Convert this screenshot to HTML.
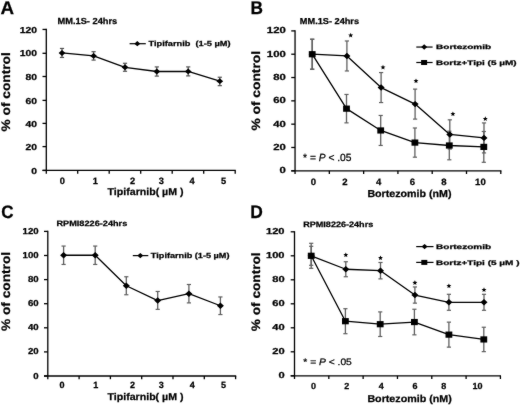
<!DOCTYPE html>
<html><head><meta charset="utf-8"><style>
html,body{margin:0;padding:0;background:#fff;overflow:hidden;}
svg{display:block;font-family:"Liberation Sans", sans-serif;}
text{stroke:#000;stroke-width:0.25px;text-rendering:geometricPrecision;}
</style></head><body>
<svg width="520" height="405" viewBox="0 0 520 405">
<defs><filter id="soft" filterUnits="userSpaceOnUse" x="0" y="0" width="520" height="405" color-interpolation-filters="sRGB"><feConvolveMatrix order="3" kernelMatrix="1 2 1 2 40 2 1 2 1" divisor="52" edgeMode="duplicate"/></filter></defs>
<g filter="url(#soft)">
<rect width="520" height="405" fill="#fff"/>
<line x1="46.30" y1="28.85" x2="46.30" y2="173.65" stroke="#000" stroke-width="1.3"/>
<line x1="42.50" y1="170.45" x2="46.30" y2="170.45" stroke="#000" stroke-width="1.3"/>
<text transform="translate(31.181,173.553) scale(1.1886,1)" font-size="8.699" font-weight="bold">0</text>
<line x1="42.50" y1="146.60" x2="46.30" y2="146.60" stroke="#000" stroke-width="1.3"/>
<text transform="translate(25.443,149.703) scale(1.1886,1)" font-size="8.699" font-weight="bold">20</text>
<line x1="42.50" y1="123.40" x2="46.30" y2="123.40" stroke="#000" stroke-width="1.3"/>
<text transform="translate(25.443,126.503) scale(1.1886,1)" font-size="8.699" font-weight="bold">40</text>
<line x1="42.50" y1="100.40" x2="46.30" y2="100.40" stroke="#000" stroke-width="1.3"/>
<text transform="translate(25.443,103.503) scale(1.1886,1)" font-size="8.699" font-weight="bold">60</text>
<line x1="42.50" y1="76.50" x2="46.30" y2="76.50" stroke="#000" stroke-width="1.3"/>
<text transform="translate(25.443,79.603) scale(1.1886,1)" font-size="8.699" font-weight="bold">80</text>
<line x1="42.50" y1="53.30" x2="46.30" y2="53.30" stroke="#000" stroke-width="1.3"/>
<text transform="translate(19.679,56.403) scale(1.1886,1)" font-size="8.699" font-weight="bold">100</text>
<line x1="42.50" y1="29.45" x2="46.30" y2="29.45" stroke="#000" stroke-width="1.3"/>
<text transform="translate(19.679,32.553) scale(1.1886,1)" font-size="8.699" font-weight="bold">120</text>
<line x1="42.50" y1="170.45" x2="235.80" y2="170.45" stroke="#000" stroke-width="1.3"/>
<line x1="77.70" y1="170.45" x2="77.70" y2="173.65" stroke="#000" stroke-width="1.3"/>
<line x1="109.20" y1="170.45" x2="109.20" y2="173.65" stroke="#000" stroke-width="1.3"/>
<line x1="140.70" y1="170.45" x2="140.70" y2="173.65" stroke="#000" stroke-width="1.3"/>
<line x1="172.20" y1="170.45" x2="172.20" y2="173.65" stroke="#000" stroke-width="1.3"/>
<line x1="203.70" y1="170.45" x2="203.70" y2="173.65" stroke="#000" stroke-width="1.3"/>
<line x1="235.20" y1="170.45" x2="235.20" y2="173.65" stroke="#000" stroke-width="1.3"/>
<text transform="translate(59.663,183.532) scale(1.0109,1)" font-size="9.167" font-weight="bold">0</text>
<text transform="translate(92.851,183.532) scale(1.0109,1)" font-size="9.167" font-weight="bold">1</text>
<text transform="translate(130.036,183.532) scale(1.0109,1)" font-size="9.167" font-weight="bold">2</text>
<text transform="translate(158.671,183.532) scale(1.0109,1)" font-size="9.167" font-weight="bold">3</text>
<text transform="translate(189.567,183.532) scale(1.0109,1)" font-size="9.167" font-weight="bold">4</text>
<text transform="translate(220.890,183.532) scale(1.0109,1)" font-size="9.167" font-weight="bold">5</text>
<line x1="62.00" y1="48.45" x2="62.00" y2="57.45" stroke="#555" stroke-width="1.3"/>
<line x1="59.90" y1="48.45" x2="64.10" y2="48.45" stroke="#555" stroke-width="1.2"/>
<line x1="59.90" y1="57.45" x2="64.10" y2="57.45" stroke="#555" stroke-width="1.2"/>
<line x1="93.60" y1="51.69" x2="93.60" y2="60.09" stroke="#555" stroke-width="1.3"/>
<line x1="91.50" y1="51.69" x2="95.70" y2="51.69" stroke="#555" stroke-width="1.2"/>
<line x1="91.50" y1="60.09" x2="95.70" y2="60.09" stroke="#555" stroke-width="1.2"/>
<line x1="125.00" y1="63.28" x2="125.00" y2="71.28" stroke="#555" stroke-width="1.3"/>
<line x1="122.90" y1="63.28" x2="127.10" y2="63.28" stroke="#555" stroke-width="1.2"/>
<line x1="122.90" y1="71.28" x2="127.10" y2="71.28" stroke="#555" stroke-width="1.2"/>
<line x1="156.80" y1="66.91" x2="156.80" y2="76.11" stroke="#555" stroke-width="1.3"/>
<line x1="154.70" y1="66.91" x2="158.90" y2="66.91" stroke="#555" stroke-width="1.2"/>
<line x1="154.70" y1="76.11" x2="158.90" y2="76.11" stroke="#555" stroke-width="1.2"/>
<line x1="188.20" y1="66.90" x2="188.20" y2="75.90" stroke="#555" stroke-width="1.3"/>
<line x1="186.10" y1="66.90" x2="190.30" y2="66.90" stroke="#555" stroke-width="1.2"/>
<line x1="186.10" y1="75.90" x2="190.30" y2="75.90" stroke="#555" stroke-width="1.2"/>
<line x1="219.80" y1="77.25" x2="219.80" y2="85.65" stroke="#555" stroke-width="1.3"/>
<line x1="217.70" y1="77.25" x2="221.90" y2="77.25" stroke="#555" stroke-width="1.2"/>
<line x1="217.70" y1="85.65" x2="221.90" y2="85.65" stroke="#555" stroke-width="1.2"/>
<path d="M62.00 52.95L93.60 55.89L125.00 67.28L156.80 71.51L188.20 71.40L219.80 81.15" fill="none" stroke="#000" stroke-width="1.3" stroke-linejoin="round"/>
<path d="M58.60 52.95L62.00 50.00L65.40 52.95L62.00 55.90Z" fill="#000"/>
<path d="M90.20 55.89L93.60 52.94L97.00 55.89L93.60 58.84Z" fill="#000"/>
<path d="M121.60 67.28L125.00 64.33L128.40 67.28L125.00 70.23Z" fill="#000"/>
<path d="M153.40 71.51L156.80 68.56L160.20 71.51L156.80 74.46Z" fill="#000"/>
<path d="M184.80 71.40L188.20 68.45L191.60 71.40L188.20 74.35Z" fill="#000"/>
<path d="M216.40 81.15L219.80 78.20L223.20 81.15L219.80 84.10Z" fill="#000"/>
<line x1="129.60" y1="43.70" x2="145.80" y2="43.70" stroke="#000" stroke-width="1.2"/>
<path d="M134.30 43.70L137.30 41.10L140.30 43.70L137.30 46.30Z" fill="#000"/>
<line x1="295.05" y1="30.30" x2="295.05" y2="174.00" stroke="#000" stroke-width="1.3"/>
<line x1="291.25" y1="170.80" x2="295.05" y2="170.80" stroke="#000" stroke-width="1.3"/>
<text transform="translate(279.449,173.260) scale(1.2866,1)" font-size="8.810" font-weight="bold">0</text>
<line x1="291.25" y1="147.48" x2="295.05" y2="147.48" stroke="#000" stroke-width="1.3"/>
<text transform="translate(273.158,149.943) scale(1.2866,1)" font-size="8.810" font-weight="bold">20</text>
<line x1="291.25" y1="124.17" x2="295.05" y2="124.17" stroke="#000" stroke-width="1.3"/>
<text transform="translate(273.158,126.626) scale(1.2866,1)" font-size="8.810" font-weight="bold">40</text>
<line x1="291.25" y1="100.85" x2="295.05" y2="100.85" stroke="#000" stroke-width="1.3"/>
<text transform="translate(273.158,103.310) scale(1.2866,1)" font-size="8.810" font-weight="bold">60</text>
<line x1="291.25" y1="77.53" x2="295.05" y2="77.53" stroke="#000" stroke-width="1.3"/>
<text transform="translate(273.158,79.993) scale(1.2866,1)" font-size="8.810" font-weight="bold">80</text>
<line x1="291.25" y1="54.22" x2="295.05" y2="54.22" stroke="#000" stroke-width="1.3"/>
<text transform="translate(266.838,56.676) scale(1.2866,1)" font-size="8.810" font-weight="bold">100</text>
<line x1="291.25" y1="30.90" x2="295.05" y2="30.90" stroke="#000" stroke-width="1.3"/>
<text transform="translate(266.838,33.360) scale(1.2866,1)" font-size="8.810" font-weight="bold">120</text>
<line x1="291.25" y1="170.80" x2="501.39" y2="170.80" stroke="#000" stroke-width="1.3"/>
<line x1="329.34" y1="170.80" x2="329.34" y2="174.00" stroke="#000" stroke-width="1.3"/>
<line x1="363.63" y1="170.80" x2="363.63" y2="174.00" stroke="#000" stroke-width="1.3"/>
<line x1="397.92" y1="170.80" x2="397.92" y2="174.00" stroke="#000" stroke-width="1.3"/>
<line x1="432.21" y1="170.80" x2="432.21" y2="174.00" stroke="#000" stroke-width="1.3"/>
<line x1="466.50" y1="170.80" x2="466.50" y2="174.00" stroke="#000" stroke-width="1.3"/>
<line x1="500.79" y1="170.80" x2="500.79" y2="174.00" stroke="#000" stroke-width="1.3"/>
<text transform="translate(310.870,184.688) scale(1.0416,1)" font-size="9.182" font-weight="bold">0</text>
<text transform="translate(342.194,184.688) scale(1.0416,1)" font-size="9.182" font-weight="bold">2</text>
<text transform="translate(376.022,184.688) scale(1.0416,1)" font-size="9.182" font-weight="bold">4</text>
<text transform="translate(409.658,184.688) scale(1.0416,1)" font-size="9.182" font-weight="bold">6</text>
<text transform="translate(441.258,184.688) scale(1.0416,1)" font-size="9.182" font-weight="bold">8</text>
<text transform="translate(475.108,184.688) scale(1.0416,1)" font-size="9.182" font-weight="bold">10</text>
<line x1="312.20" y1="39.22" x2="312.20" y2="69.22" stroke="#606060" stroke-width="1.3"/>
<line x1="310.10" y1="39.22" x2="314.30" y2="39.22" stroke="#606060" stroke-width="1.2"/>
<line x1="310.10" y1="69.22" x2="314.30" y2="69.22" stroke="#606060" stroke-width="1.2"/>
<line x1="346.90" y1="40.97" x2="346.90" y2="70.97" stroke="#606060" stroke-width="1.3"/>
<line x1="344.80" y1="40.97" x2="349.00" y2="40.97" stroke="#606060" stroke-width="1.2"/>
<line x1="344.80" y1="70.97" x2="349.00" y2="70.97" stroke="#606060" stroke-width="1.2"/>
<line x1="381.10" y1="72.56" x2="381.10" y2="102.56" stroke="#606060" stroke-width="1.3"/>
<line x1="379.00" y1="72.56" x2="383.20" y2="72.56" stroke="#606060" stroke-width="1.2"/>
<line x1="379.00" y1="102.56" x2="383.20" y2="102.56" stroke="#606060" stroke-width="1.2"/>
<line x1="415.10" y1="89.11" x2="415.10" y2="119.11" stroke="#606060" stroke-width="1.3"/>
<line x1="413.00" y1="89.11" x2="417.20" y2="89.11" stroke="#606060" stroke-width="1.2"/>
<line x1="413.00" y1="119.11" x2="417.20" y2="119.11" stroke="#606060" stroke-width="1.2"/>
<line x1="449.80" y1="119.83" x2="449.80" y2="149.03" stroke="#606060" stroke-width="1.3"/>
<line x1="447.70" y1="119.83" x2="451.90" y2="119.83" stroke="#606060" stroke-width="1.2"/>
<line x1="447.70" y1="149.03" x2="451.90" y2="149.03" stroke="#606060" stroke-width="1.2"/>
<line x1="484.00" y1="122.92" x2="484.00" y2="152.92" stroke="#606060" stroke-width="1.3"/>
<line x1="481.90" y1="122.92" x2="486.10" y2="122.92" stroke="#606060" stroke-width="1.2"/>
<line x1="481.90" y1="152.92" x2="486.10" y2="152.92" stroke="#606060" stroke-width="1.2"/>
<line x1="312.20" y1="39.22" x2="312.20" y2="69.22" stroke="#606060" stroke-width="1.3"/>
<line x1="310.10" y1="39.22" x2="314.30" y2="39.22" stroke="#606060" stroke-width="1.2"/>
<line x1="310.10" y1="69.22" x2="314.30" y2="69.22" stroke="#606060" stroke-width="1.2"/>
<line x1="346.50" y1="94.46" x2="346.50" y2="122.86" stroke="#606060" stroke-width="1.3"/>
<line x1="344.40" y1="94.46" x2="348.60" y2="94.46" stroke="#606060" stroke-width="1.2"/>
<line x1="344.40" y1="122.86" x2="348.60" y2="122.86" stroke="#606060" stroke-width="1.2"/>
<line x1="380.70" y1="115.46" x2="380.70" y2="145.46" stroke="#606060" stroke-width="1.3"/>
<line x1="378.60" y1="115.46" x2="382.80" y2="115.46" stroke="#606060" stroke-width="1.2"/>
<line x1="378.60" y1="145.46" x2="382.80" y2="145.46" stroke="#606060" stroke-width="1.2"/>
<line x1="414.90" y1="127.99" x2="414.90" y2="157.19" stroke="#606060" stroke-width="1.3"/>
<line x1="412.80" y1="127.99" x2="417.00" y2="127.99" stroke="#606060" stroke-width="1.2"/>
<line x1="412.80" y1="157.19" x2="417.00" y2="157.19" stroke="#606060" stroke-width="1.2"/>
<line x1="449.30" y1="131.20" x2="449.30" y2="159.80" stroke="#606060" stroke-width="1.3"/>
<line x1="447.20" y1="131.20" x2="451.40" y2="131.20" stroke="#606060" stroke-width="1.2"/>
<line x1="447.20" y1="159.80" x2="451.40" y2="159.80" stroke="#606060" stroke-width="1.2"/>
<line x1="483.80" y1="131.50" x2="483.80" y2="162.30" stroke="#606060" stroke-width="1.3"/>
<line x1="481.70" y1="131.50" x2="485.90" y2="131.50" stroke="#606060" stroke-width="1.2"/>
<line x1="481.70" y1="162.30" x2="485.90" y2="162.30" stroke="#606060" stroke-width="1.2"/>
<path d="M312.20 54.22L346.90 55.97L381.10 87.56L415.10 104.11L449.80 134.43L484.00 137.92" fill="none" stroke="#000" stroke-width="1.3" stroke-linejoin="round"/>
<path d="M312.20 54.22L346.50 108.66L380.70 130.46L414.90 142.59L449.30 145.50L483.80 146.90" fill="none" stroke="#000" stroke-width="1.3" stroke-linejoin="round"/>
<path d="M308.70 54.22L312.20 51.02L315.70 54.22L312.20 57.42Z" fill="#000"/>
<path d="M343.40 55.97L346.90 52.77L350.40 55.97L346.90 59.17Z" fill="#000"/>
<path d="M377.60 87.56L381.10 84.36L384.60 87.56L381.10 90.76Z" fill="#000"/>
<path d="M411.60 104.11L415.10 100.91L418.60 104.11L415.10 107.31Z" fill="#000"/>
<path d="M446.30 134.43L449.80 131.23L453.30 134.43L449.80 137.63Z" fill="#000"/>
<path d="M480.50 137.92L484.00 134.72L487.50 137.92L484.00 141.12Z" fill="#000"/>
<rect x="308.80" y="51.12" width="6.8" height="6.2" fill="#000"/>
<rect x="343.10" y="105.56" width="6.8" height="6.2" fill="#000"/>
<rect x="377.30" y="127.36" width="6.8" height="6.2" fill="#000"/>
<rect x="411.50" y="139.49" width="6.8" height="6.2" fill="#000"/>
<rect x="445.90" y="142.40" width="6.8" height="6.2" fill="#000"/>
<rect x="480.40" y="143.80" width="6.8" height="6.2" fill="#000"/>
<polygon points="350.70,32.80 351.39,34.45 353.17,34.60 351.81,35.76 352.23,37.50 350.70,36.57 349.17,37.50 349.59,35.76 348.23,34.60 350.01,34.45" fill="#000"/>
<polygon points="383.00,64.80 383.69,66.45 385.47,66.60 384.11,67.76 384.53,69.50 383.00,68.57 381.47,69.50 381.89,67.76 380.53,66.60 382.31,66.45" fill="#000"/>
<polygon points="416.00,78.40 416.69,80.05 418.47,80.20 417.11,81.36 417.53,83.10 416.00,82.17 414.47,83.10 414.89,81.36 413.53,80.20 415.31,80.05" fill="#000"/>
<polygon points="452.90,111.40 453.59,113.05 455.37,113.20 454.01,114.36 454.43,116.10 452.90,115.17 451.37,116.10 451.79,114.36 450.43,113.20 452.21,113.05" fill="#000"/>
<polygon points="485.30,116.30 485.99,117.95 487.77,118.10 486.41,119.26 486.83,121.00 485.30,120.07 483.77,121.00 484.19,119.26 482.83,118.10 484.61,117.95" fill="#000"/>
<line x1="416.30" y1="47.05" x2="432.60" y2="47.05" stroke="#000" stroke-width="1.2"/>
<path d="M421.20 47.05L424.20 44.35L427.20 47.05L424.20 49.75Z" fill="#000"/>
<line x1="416.30" y1="62.50" x2="432.60" y2="62.50" stroke="#000" stroke-width="1.2"/>
<rect x="421.10" y="60.00" width="6.0" height="5.0" fill="#000"/>
<line x1="47.80" y1="230.80" x2="47.80" y2="379.20" stroke="#000" stroke-width="1.3"/>
<line x1="44.00" y1="376.00" x2="47.80" y2="376.00" stroke="#000" stroke-width="1.3"/>
<text transform="translate(33.303,378.566) scale(1.1187,1)" font-size="8.624" font-weight="bold">0</text>
<line x1="44.00" y1="351.90" x2="47.80" y2="351.90" stroke="#000" stroke-width="1.3"/>
<text transform="translate(27.949,354.466) scale(1.1187,1)" font-size="8.624" font-weight="bold">20</text>
<line x1="44.00" y1="327.80" x2="47.80" y2="327.80" stroke="#000" stroke-width="1.3"/>
<text transform="translate(27.949,330.366) scale(1.1187,1)" font-size="8.624" font-weight="bold">40</text>
<line x1="44.00" y1="303.70" x2="47.80" y2="303.70" stroke="#000" stroke-width="1.3"/>
<text transform="translate(27.949,306.266) scale(1.1187,1)" font-size="8.624" font-weight="bold">60</text>
<line x1="44.00" y1="279.60" x2="47.80" y2="279.60" stroke="#000" stroke-width="1.3"/>
<text transform="translate(27.949,282.166) scale(1.1187,1)" font-size="8.624" font-weight="bold">80</text>
<line x1="44.00" y1="255.50" x2="47.80" y2="255.50" stroke="#000" stroke-width="1.3"/>
<text transform="translate(22.570,258.066) scale(1.1187,1)" font-size="8.624" font-weight="bold">100</text>
<line x1="44.00" y1="231.40" x2="47.80" y2="231.40" stroke="#000" stroke-width="1.3"/>
<text transform="translate(22.570,233.966) scale(1.1187,1)" font-size="8.624" font-weight="bold">120</text>
<line x1="44.00" y1="376.00" x2="236.20" y2="376.00" stroke="#000" stroke-width="1.3"/>
<line x1="79.10" y1="376.00" x2="79.10" y2="379.20" stroke="#000" stroke-width="1.3"/>
<line x1="110.40" y1="376.00" x2="110.40" y2="379.20" stroke="#000" stroke-width="1.3"/>
<line x1="141.70" y1="376.00" x2="141.70" y2="379.20" stroke="#000" stroke-width="1.3"/>
<line x1="173.00" y1="376.00" x2="173.00" y2="379.20" stroke="#000" stroke-width="1.3"/>
<line x1="204.30" y1="376.00" x2="204.30" y2="379.20" stroke="#000" stroke-width="1.3"/>
<line x1="235.60" y1="376.00" x2="235.60" y2="379.20" stroke="#000" stroke-width="1.3"/>
<text transform="translate(59.588,387.862) scale(1.0048,1)" font-size="8.993" font-weight="bold">0</text>
<text transform="translate(93.130,387.862) scale(1.0048,1)" font-size="8.993" font-weight="bold">1</text>
<text transform="translate(129.911,387.862) scale(1.0048,1)" font-size="8.993" font-weight="bold">2</text>
<text transform="translate(158.845,387.862) scale(1.0048,1)" font-size="8.993" font-weight="bold">3</text>
<text transform="translate(189.843,387.862) scale(1.0048,1)" font-size="8.993" font-weight="bold">4</text>
<text transform="translate(221.066,387.862) scale(1.0048,1)" font-size="8.993" font-weight="bold">5</text>
<line x1="63.60" y1="246.06" x2="63.60" y2="264.46" stroke="#606060" stroke-width="1.3"/>
<line x1="61.50" y1="246.06" x2="65.70" y2="246.06" stroke="#606060" stroke-width="1.2"/>
<line x1="61.50" y1="264.46" x2="65.70" y2="264.46" stroke="#606060" stroke-width="1.2"/>
<line x1="95.20" y1="246.06" x2="95.20" y2="264.46" stroke="#606060" stroke-width="1.3"/>
<line x1="93.10" y1="246.06" x2="97.30" y2="246.06" stroke="#606060" stroke-width="1.2"/>
<line x1="93.10" y1="264.46" x2="97.30" y2="264.46" stroke="#606060" stroke-width="1.2"/>
<line x1="126.30" y1="276.75" x2="126.30" y2="294.75" stroke="#606060" stroke-width="1.3"/>
<line x1="124.20" y1="276.75" x2="128.40" y2="276.75" stroke="#606060" stroke-width="1.2"/>
<line x1="124.20" y1="294.75" x2="128.40" y2="294.75" stroke="#606060" stroke-width="1.2"/>
<line x1="157.70" y1="291.47" x2="157.70" y2="309.37" stroke="#606060" stroke-width="1.3"/>
<line x1="155.60" y1="291.47" x2="159.80" y2="291.47" stroke="#606060" stroke-width="1.2"/>
<line x1="155.60" y1="309.37" x2="159.80" y2="309.37" stroke="#606060" stroke-width="1.2"/>
<line x1="188.90" y1="284.50" x2="188.90" y2="302.90" stroke="#606060" stroke-width="1.3"/>
<line x1="186.80" y1="284.50" x2="191.00" y2="284.50" stroke="#606060" stroke-width="1.2"/>
<line x1="186.80" y1="302.90" x2="191.00" y2="302.90" stroke="#606060" stroke-width="1.2"/>
<line x1="220.40" y1="296.95" x2="220.40" y2="314.55" stroke="#606060" stroke-width="1.3"/>
<line x1="218.30" y1="296.95" x2="222.50" y2="296.95" stroke="#606060" stroke-width="1.2"/>
<line x1="218.30" y1="314.55" x2="222.50" y2="314.55" stroke="#606060" stroke-width="1.2"/>
<path d="M63.60 255.26L95.20 255.26L126.30 285.75L157.70 300.57L188.90 293.70L220.40 305.75" fill="none" stroke="#000" stroke-width="1.3" stroke-linejoin="round"/>
<path d="M60.10 255.26L63.60 252.06L67.10 255.26L63.60 258.46Z" fill="#000"/>
<path d="M91.70 255.26L95.20 252.06L98.70 255.26L95.20 258.46Z" fill="#000"/>
<path d="M122.80 285.75L126.30 282.55L129.80 285.75L126.30 288.95Z" fill="#000"/>
<path d="M154.20 300.57L157.70 297.37L161.20 300.57L157.70 303.77Z" fill="#000"/>
<path d="M185.40 293.70L188.90 290.50L192.40 293.70L188.90 296.90Z" fill="#000"/>
<path d="M216.90 305.75L220.40 302.55L223.90 305.75L220.40 308.95Z" fill="#000"/>
<line x1="132.80" y1="255.60" x2="148.30" y2="255.60" stroke="#000" stroke-width="1.2"/>
<path d="M137.30 255.60L140.30 252.95L143.30 255.60L140.30 258.25Z" fill="#000"/>
<line x1="294.50" y1="231.20" x2="294.50" y2="379.00" stroke="#000" stroke-width="1.3"/>
<line x1="290.70" y1="375.80" x2="294.50" y2="375.80" stroke="#000" stroke-width="1.3"/>
<text transform="translate(278.398,378.321) scale(1.2906,1)" font-size="8.639" font-weight="bold">0</text>
<line x1="290.70" y1="351.80" x2="294.50" y2="351.80" stroke="#000" stroke-width="1.3"/>
<text transform="translate(272.209,354.321) scale(1.2906,1)" font-size="8.639" font-weight="bold">20</text>
<line x1="290.70" y1="327.80" x2="294.50" y2="327.80" stroke="#000" stroke-width="1.3"/>
<text transform="translate(272.209,330.321) scale(1.2906,1)" font-size="8.639" font-weight="bold">40</text>
<line x1="290.70" y1="303.80" x2="294.50" y2="303.80" stroke="#000" stroke-width="1.3"/>
<text transform="translate(272.209,306.321) scale(1.2906,1)" font-size="8.639" font-weight="bold">60</text>
<line x1="290.70" y1="279.80" x2="294.50" y2="279.80" stroke="#000" stroke-width="1.3"/>
<text transform="translate(272.209,282.321) scale(1.2906,1)" font-size="8.639" font-weight="bold">80</text>
<line x1="290.70" y1="255.80" x2="294.50" y2="255.80" stroke="#000" stroke-width="1.3"/>
<text transform="translate(265.993,258.321) scale(1.2906,1)" font-size="8.639" font-weight="bold">100</text>
<line x1="290.70" y1="231.80" x2="294.50" y2="231.80" stroke="#000" stroke-width="1.3"/>
<text transform="translate(265.993,234.321) scale(1.2906,1)" font-size="8.639" font-weight="bold">120</text>
<line x1="290.70" y1="375.80" x2="501.02" y2="375.80" stroke="#000" stroke-width="1.3"/>
<line x1="328.82" y1="375.80" x2="328.82" y2="379.00" stroke="#000" stroke-width="1.3"/>
<line x1="363.14" y1="375.80" x2="363.14" y2="379.00" stroke="#000" stroke-width="1.3"/>
<line x1="397.46" y1="375.80" x2="397.46" y2="379.00" stroke="#000" stroke-width="1.3"/>
<line x1="431.78" y1="375.80" x2="431.78" y2="379.00" stroke="#000" stroke-width="1.3"/>
<line x1="466.10" y1="375.80" x2="466.10" y2="379.00" stroke="#000" stroke-width="1.3"/>
<line x1="500.42" y1="375.80" x2="500.42" y2="379.00" stroke="#000" stroke-width="1.3"/>
<text transform="translate(310.979,389.278) scale(1.0224,1)" font-size="8.790" font-weight="bold">0</text>
<text transform="translate(344.202,389.278) scale(1.0224,1)" font-size="8.790" font-weight="bold">2</text>
<text transform="translate(378.634,389.278) scale(1.0224,1)" font-size="8.790" font-weight="bold">4</text>
<text transform="translate(412.468,389.278) scale(1.0224,1)" font-size="8.790" font-weight="bold">6</text>
<text transform="translate(441.268,389.278) scale(1.0224,1)" font-size="8.790" font-weight="bold">8</text>
<text transform="translate(472.384,389.278) scale(1.0224,1)" font-size="8.790" font-weight="bold">10</text>
<line x1="311.20" y1="243.30" x2="311.20" y2="268.30" stroke="#606060" stroke-width="1.3"/>
<line x1="309.10" y1="243.30" x2="313.30" y2="243.30" stroke="#606060" stroke-width="1.2"/>
<line x1="309.10" y1="268.30" x2="313.30" y2="268.30" stroke="#606060" stroke-width="1.2"/>
<line x1="345.80" y1="261.74" x2="345.80" y2="276.74" stroke="#606060" stroke-width="1.3"/>
<line x1="343.70" y1="261.74" x2="347.90" y2="261.74" stroke="#606060" stroke-width="1.2"/>
<line x1="343.70" y1="276.74" x2="347.90" y2="276.74" stroke="#606060" stroke-width="1.2"/>
<line x1="380.50" y1="262.48" x2="380.50" y2="278.88" stroke="#606060" stroke-width="1.3"/>
<line x1="378.40" y1="262.48" x2="382.60" y2="262.48" stroke="#606060" stroke-width="1.2"/>
<line x1="378.40" y1="278.88" x2="382.60" y2="278.88" stroke="#606060" stroke-width="1.2"/>
<line x1="414.90" y1="286.94" x2="414.90" y2="303.14" stroke="#606060" stroke-width="1.3"/>
<line x1="412.80" y1="286.94" x2="417.00" y2="286.94" stroke="#606060" stroke-width="1.2"/>
<line x1="412.80" y1="303.14" x2="417.00" y2="303.14" stroke="#606060" stroke-width="1.2"/>
<line x1="448.90" y1="294.30" x2="448.90" y2="310.30" stroke="#606060" stroke-width="1.3"/>
<line x1="446.80" y1="294.30" x2="451.00" y2="294.30" stroke="#606060" stroke-width="1.2"/>
<line x1="446.80" y1="310.30" x2="451.00" y2="310.30" stroke="#606060" stroke-width="1.2"/>
<line x1="484.00" y1="294.30" x2="484.00" y2="310.30" stroke="#606060" stroke-width="1.3"/>
<line x1="481.90" y1="294.30" x2="486.10" y2="294.30" stroke="#606060" stroke-width="1.2"/>
<line x1="481.90" y1="310.30" x2="486.10" y2="310.30" stroke="#606060" stroke-width="1.2"/>
<line x1="311.20" y1="246.30" x2="311.20" y2="265.30" stroke="#606060" stroke-width="1.3"/>
<line x1="309.10" y1="246.30" x2="313.30" y2="246.30" stroke="#606060" stroke-width="1.2"/>
<line x1="309.10" y1="265.30" x2="313.30" y2="265.30" stroke="#606060" stroke-width="1.2"/>
<line x1="345.40" y1="308.70" x2="345.40" y2="333.70" stroke="#606060" stroke-width="1.3"/>
<line x1="343.30" y1="308.70" x2="347.50" y2="308.70" stroke="#606060" stroke-width="1.2"/>
<line x1="343.30" y1="333.70" x2="347.50" y2="333.70" stroke="#606060" stroke-width="1.2"/>
<line x1="380.20" y1="311.90" x2="380.20" y2="336.50" stroke="#606060" stroke-width="1.3"/>
<line x1="378.10" y1="311.90" x2="382.30" y2="311.90" stroke="#606060" stroke-width="1.2"/>
<line x1="378.10" y1="336.50" x2="382.30" y2="336.50" stroke="#606060" stroke-width="1.2"/>
<line x1="414.40" y1="309.24" x2="414.40" y2="334.84" stroke="#606060" stroke-width="1.3"/>
<line x1="412.30" y1="309.24" x2="416.50" y2="309.24" stroke="#606060" stroke-width="1.2"/>
<line x1="412.30" y1="334.84" x2="416.50" y2="334.84" stroke="#606060" stroke-width="1.2"/>
<line x1="448.90" y1="322.14" x2="448.90" y2="347.14" stroke="#606060" stroke-width="1.3"/>
<line x1="446.80" y1="322.14" x2="451.00" y2="322.14" stroke="#606060" stroke-width="1.2"/>
<line x1="446.80" y1="347.14" x2="451.00" y2="347.14" stroke="#606060" stroke-width="1.2"/>
<line x1="483.80" y1="327.24" x2="483.80" y2="351.64" stroke="#606060" stroke-width="1.3"/>
<line x1="481.70" y1="327.24" x2="485.90" y2="327.24" stroke="#606060" stroke-width="1.2"/>
<line x1="481.70" y1="351.64" x2="485.90" y2="351.64" stroke="#606060" stroke-width="1.2"/>
<path d="M311.20 255.80L345.80 269.24L380.50 270.68L414.90 295.04L448.90 302.30L484.00 302.30" fill="none" stroke="#000" stroke-width="1.3" stroke-linejoin="round"/>
<path d="M311.20 255.80L345.40 321.20L380.20 324.20L414.40 322.04L448.90 334.64L483.80 339.44" fill="none" stroke="#000" stroke-width="1.3" stroke-linejoin="round"/>
<path d="M307.70 255.80L311.20 252.60L314.70 255.80L311.20 259.00Z" fill="#000"/>
<path d="M342.30 269.24L345.80 266.04L349.30 269.24L345.80 272.44Z" fill="#000"/>
<path d="M377.00 270.68L380.50 267.48L384.00 270.68L380.50 273.88Z" fill="#000"/>
<path d="M411.40 295.04L414.90 291.84L418.40 295.04L414.90 298.24Z" fill="#000"/>
<path d="M445.40 302.30L448.90 299.10L452.40 302.30L448.90 305.50Z" fill="#000"/>
<path d="M480.50 302.30L484.00 299.10L487.50 302.30L484.00 305.50Z" fill="#000"/>
<rect x="307.80" y="252.70" width="6.8" height="6.2" fill="#000"/>
<rect x="342.00" y="318.10" width="6.8" height="6.2" fill="#000"/>
<rect x="376.80" y="321.10" width="6.8" height="6.2" fill="#000"/>
<rect x="411.00" y="318.94" width="6.8" height="6.2" fill="#000"/>
<rect x="445.50" y="331.54" width="6.8" height="6.2" fill="#000"/>
<rect x="480.40" y="336.34" width="6.8" height="6.2" fill="#000"/>
<polygon points="345.80,252.40 346.49,254.05 348.27,254.20 346.91,255.36 347.33,257.10 345.80,256.17 344.27,257.10 344.69,255.36 343.33,254.20 345.11,254.05" fill="#000"/>
<polygon points="380.50,255.40 381.19,257.05 382.97,257.20 381.61,258.36 382.03,260.10 380.50,259.17 378.97,260.10 379.39,258.36 378.03,257.20 379.81,257.05" fill="#000"/>
<polygon points="414.90,280.20 415.59,281.85 417.37,282.00 416.01,283.16 416.43,284.90 414.90,283.97 413.37,284.90 413.79,283.16 412.43,282.00 414.21,281.85" fill="#000"/>
<polygon points="448.90,283.40 449.59,285.05 451.37,285.20 450.01,286.36 450.43,288.10 448.90,287.17 447.37,288.10 447.79,286.36 446.43,285.20 448.21,285.05" fill="#000"/>
<polygon points="484.00,287.30 484.69,288.95 486.47,289.10 485.11,290.26 485.53,292.00 484.00,291.07 482.47,292.00 482.89,290.26 481.53,289.10 483.31,288.95" fill="#000"/>
<line x1="416.20" y1="246.60" x2="433.50" y2="246.60" stroke="#000" stroke-width="1.2"/>
<path d="M421.60 246.60L424.60 243.90L427.60 246.60L424.60 249.30Z" fill="#000"/>
<line x1="416.20" y1="262.40" x2="433.50" y2="262.40" stroke="#000" stroke-width="1.2"/>
<rect x="421.30" y="259.90" width="6.0" height="5.0" fill="#000"/>
<text transform="translate(0.422,14.211) scale(1.0276,1)" font-size="18.320" font-weight="bold">A</text>
<text transform="translate(250.385,14.150) scale(0.9407,1)" font-size="18.331" font-weight="bold">B</text>
<text transform="translate(1.270,217.854) scale(0.9418,1)" font-size="17.996" font-weight="bold">C</text>
<text transform="translate(250.265,218.087) scale(0.9586,1)" font-size="18.159" font-weight="bold">D</text>
<text transform="translate(57.511,24.406) scale(1.0543,1)" font-size="8.797" font-weight="bold">MM.1S- 24hrs</text>
<text transform="translate(299.872,24.285) scale(1.0683,1)" font-size="8.603" font-weight="bold">MM.1S- 24hrs</text>
<text transform="translate(56.454,226.319) scale(1.1845,1)" font-size="7.740" font-weight="bold">RPMI8226-24hrs</text>
<text transform="translate(303.185,226.694) scale(1.1645,1)" font-size="7.795" font-weight="bold">RPMI8226-24hrs</text>
<text transform="translate(10.238,131.462) rotate(-90) scale(1.1199,1)" font-size="12.263" font-weight="bold">% of control</text>
<text transform="translate(260.210,130.551) rotate(-90) scale(1.1431,1)" font-size="12.056" font-weight="bold">% of control</text>
<text transform="translate(10.386,331.082) rotate(-90) scale(1.1180,1)" font-size="12.287" font-weight="bold">% of control</text>
<text transform="translate(260.427,331.162) rotate(-90) scale(1.1189,1)" font-size="12.206" font-weight="bold">% of control</text>
<text transform="translate(107.594,195.129) scale(1.0624,1)" font-size="9.987" font-weight="bold">Tipifarnib( µM )</text>
<text transform="translate(367.398,197.013) scale(1.0621,1)" font-size="10.054" font-weight="bold">Bortezomib (nM)</text>
<text transform="translate(107.558,400.434) scale(1.0779,1)" font-size="9.844" font-weight="bold">Tipifarnib( µM )</text>
<text transform="translate(367.378,402.082) scale(1.0753,1)" font-size="9.965" font-weight="bold">Bortezomib (nM)</text>
<text transform="translate(148.479,46.456) scale(1.2469,1)" font-size="7.423" font-weight="bold">Tipifarnib&#160; (1-5 µM)</text>
<text transform="translate(150.864,258.160) scale(1.2367,1)" font-size="7.385" font-weight="bold">Tipifarnib (1-5 µM)</text>
<text transform="translate(436.113,49.190) scale(1.5859,1)" font-size="6.305" font-weight="bold">Bortezomib</text>
<text transform="translate(436.012,65.330) scale(1.5033,1)" font-size="6.649" font-weight="bold">Bortz+Tipi (5 µM)</text>
<text transform="translate(436.083,249.313) scale(1.4931,1)" font-size="6.693" font-weight="bold">Bortezomib</text>
<text transform="translate(435.927,264.935) scale(1.5084,1)" font-size="6.634" font-weight="bold">Bortz+Tipi (5 µM )</text>
<text transform="translate(303.066,160.529) scale(0.9863,1)" font-size="10.406" font-weight="normal">* = <tspan font-style="italic">P</tspan> &lt; .05</text>
<text transform="translate(303.311,364.591) scale(1.0991,1)" font-size="9.334" font-weight="normal">* = <tspan font-style="italic">P</tspan> &lt; .05</text>
</g>
</svg></body></html>
